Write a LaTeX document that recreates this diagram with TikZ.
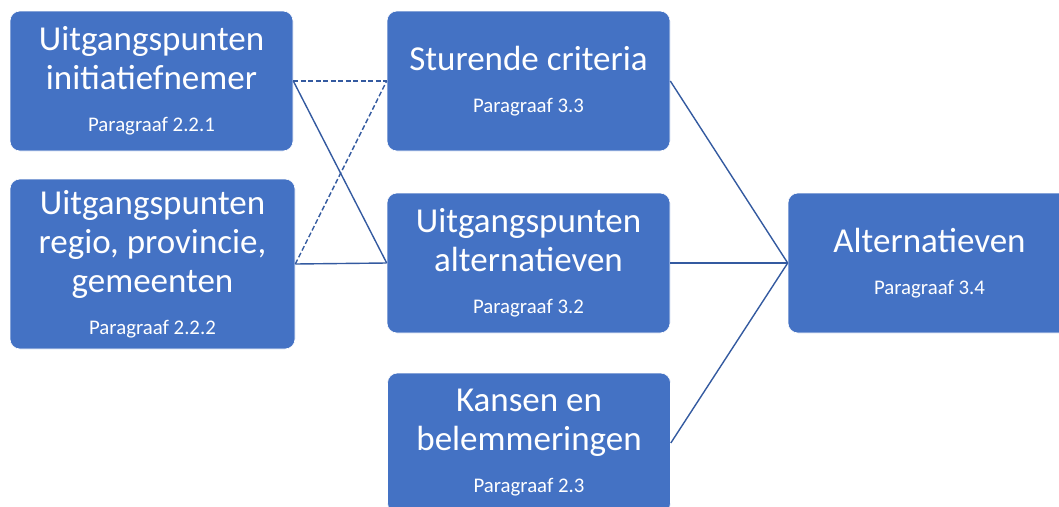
\documentclass[tikz,border=0pt]{standalone}
\usepackage{fontspec}
\setmainfont{Carlito}
\usetikzlibrary{positioning}
\definecolor{boxblue}{RGB}{68,114,196}
\definecolor{lineblue}{RGB}{52,90,160}
\newcommand{\paragr}[1]{\\[3pt]{\fontsize{20.8}{24}\selectfont Paragraaf #1}}
\tikzset{
    blokje/.style={
        rounded corners=10pt,
        fill=boxblue,
        draw=white,
        line width=0.6pt,
        text=white,
        align=center,
        inner sep=0pt,
        minimum width=283pt,
        minimum height=140pt,
        font=\fontsize{35}{39}\selectfont
    },
    % doorgetrokken lijn
    lijn/.style={
        lineblue,
        line width=1.4pt
    },
    % gestreepte lijn
    streep/.style={
        lijn,
        dash pattern=on 5pt off 2.5pt
    }
}
\begin{document}
\begin{tikzpicture}[x=1pt,y=-1pt]
	\useasboundingbox (0,0) rectangle (1059,506);
	\clip (0,0) rectangle (1059,506);

	% blokken links
	\node[blokje] (ui) at (151.5,81) {Uitgangspunten\\initiatiefnemer\paragr{2.2.1}};
	\node[blokje, minimum width=285pt, minimum height=170pt] (ur) at (152.5,264) {Uitgangspunten\\regio, provincie,\\gemeenten\paragr{2.2.2}};

	% blokken midden
	\node[blokje] (sc) at (528.5,81) {Sturende criteria\paragr{3.3}};
	\node[blokje] (ua) at (528.5,263) {Uitgangspunten\\alternatieven\paragr{3.2}};
	\node[blokje] (kb) at (529,443) {Kansen en\\belemmeringen\paragr{2.3}};

	% blok rechts
	\node[blokje] (alt) at (929.5,263) {Alternatieven\paragr{3.4}};

	% verbindingen
	\draw[streep] (ui.east) -- (sc.west);
	\draw[lijn] (ui.east) -- (ua.west);
	\draw[streep] (ur.east) -- (sc.west);
	\draw[lijn] (ur.east) -- (ua.west);

	\draw[lijn] (sc.east) -- (alt.west);
	\draw[lijn] (ua.east) -- (alt.west);
	\draw[lijn] (kb.east) -- (alt.west);
\end{tikzpicture}
\end{document}
